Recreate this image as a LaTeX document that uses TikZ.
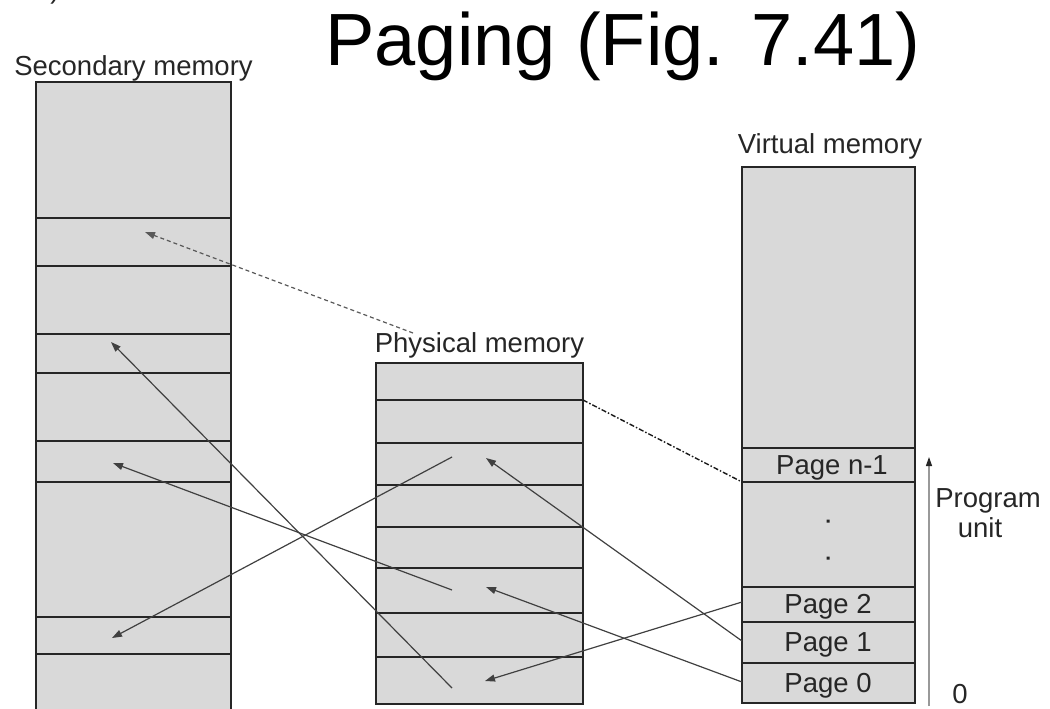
\documentclass[tikz,border=0pt]{standalone}
\usepackage{fontspec}
\setmainfont{Liberation Sans}
\usetikzlibrary{arrows.meta}

\begin{document}
\begin{tikzpicture}[x=1pt,y=-1pt,
  mem/.style={draw=black!85,line width=1.4pt,fill=black!15},
  row/.style={draw=black!85,line width=1.4pt},
  lbl/.style={font=\fontsize{27.5}{30}\selectfont,text=black!85,inner sep=0pt,anchor=base},
  link/.style={draw=black!75,line width=1.2pt,-{Triangle[length=10pt,width=7pt]}},
  swap/.style={link,draw=black!65,dash pattern=on 4pt off 3pt},
  loaded/.style={draw=black!90,line width=1.4pt,dash pattern=on 5pt off 2pt on 1.5pt off 2pt}]
\useasboundingbox (0,0) rectangle (1050,709);
\clip (0,0) rectangle (1050,709);

\node[lbl] (cut) at (55,-1) {)};
\node[font=\fontsize{74}{80}\selectfont,inner sep=0pt,anchor=base] (title) at (623,66) {Paging (Fig. 7.41)};

% secondary memory
\draw[mem] (36,82) rectangle (231,715);
\foreach \y in {218,266,334,373,441,482,617,654}
  \draw[row] (36,\y) -- (231,\y);
\node[lbl] (seclbl) at (133.5,75) {Secondary memory};

% physical memory
\draw[mem] (376,363) rectangle (583,704);
\foreach \y in {400,443,485,527,568,613,657}
  \draw[row] (376,\y) -- (583,\y);
\node[lbl] (phylbl) at (479.5,352) {Physical memory};

% virtual memory
\draw[mem] (742,167) rectangle (915,703);
\foreach \y in {448,482,587,622,663}
  \draw[row] (742,\y) -- (915,\y);
\node[lbl] (virlbl) at (830,153) {Virtual memory};
\node[lbl] (pgn) at (832,474) {Page n-1};
\node[lbl] (pg2) at (828,613) {Page 2};
\node[lbl] (pg1) at (828,651) {Page 1};
\node[lbl] (pg0) at (828,692) {Page 0};
\fill[black!85] (826.5,519.5) rectangle (829.5,522.5) (826.5,556.5) rectangle (829.5,559.5);

\coordinate (s1) at (145,232);
\coordinate (s2) at (111,342);
\coordinate (s3) at (113,463);
\coordinate (s4) at (112,638);
\coordinate (p0) at (413,333);
\coordinate (pa) at (452,457);
\coordinate (pb) at (452,590);
\coordinate (pc) at (452,688);
\coordinate (qa) at (486,458);
\coordinate (qb) at (486,587);
\coordinate (qc) at (485,681);
\coordinate (pt) at (583,400);
\coordinate (vn) at (742,482);
\coordinate (v2) at (742,602);
\coordinate (v1) at (742,641);
\coordinate (v0) at (742,682);

\draw[swap] (p0) -- (s1);
\draw[link] (pa) -- (s4);
\draw[link] (pb) -- (s3);
\draw[link] (pc) -- (s2);
\draw[link] (v2) -- (qc);
\draw[link] (v1) -- (qa);
\draw[link] (v0) -- (qb);
\draw[loaded] (pt) -- (vn);

% program unit
\coordinate (pu0) at (929,706);
\coordinate (pu1) at (929,457);
\draw[draw=black!40,line width=1.2pt,-{Triangle[length=9pt,width=6pt,color=black!85]}] (pu0) -- (pu1);
\node[lbl] (prog) at (988,507) {Program};
\node[lbl] (unit) at (980,537) {unit};
\node[lbl] (zero) at (960,703) {0};
\end{tikzpicture}
\end{document}
